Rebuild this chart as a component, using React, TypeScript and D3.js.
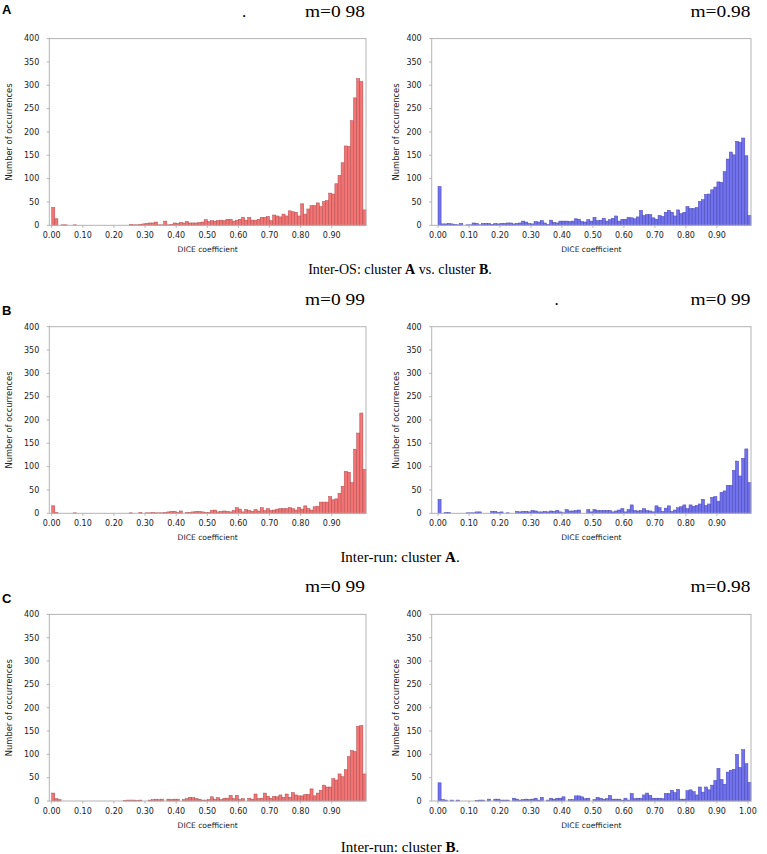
import React from "react";
import * as d3 from "d3";

// DICE coefficient bins: 0.00 … 1.00 step 0.01
const binStarts = d3.range(101).map((i) => i / 100);

// Row A – Inter-OS
const interOsLeft = [
  38, 14, 0, 1, 1, 0, 0, 1, 0, 0,
  0, 0, 0, 0, 0, 0, 0, 0, 0, 0,
  0, 0, 0, 0, 0, 2, 1, 1, 2, 3,
  4, 5, 5, 7, 1, 1, 9, 1, 2, 5,
  4, 6, 5, 8, 5, 5, 5, 6, 7, 12,
  8, 10, 9, 10, 11, 10, 13, 13, 9, 11,
  13, 17, 11, 17, 11, 11, 13, 17, 17, 19,
  10, 22, 20, 18, 24, 20, 31, 29, 28, 20,
  46, 24, 35, 42, 42, 48, 40, 51, 53, 69,
  67, 89, 107, 134, 170, 169, 224, 273, 314, 308,
  33,
];
const interOsRight = [
  83, 3, 3, 4, 3, 2, 1, 4, 0, 1,
  1, 5, 4, 1, 4, 4, 4, 2, 4, 3,
  4, 4, 5, 5, 3, 4, 5, 9, 7, 4,
  3, 8, 7, 10, 5, 2, 11, 6, 5, 9,
  9, 9, 8, 9, 14, 13, 8, 7, 12, 9,
  17, 10, 11, 15, 9, 12, 15, 20, 9, 13,
  13, 17, 16, 14, 18, 32, 21, 23, 23, 16,
  13, 21, 19, 28, 32, 28, 20, 33, 25, 28,
  40, 36, 36, 38, 51, 55, 66, 67, 76, 82,
  93, 92, 115, 142, 157, 151, 180, 178, 187, 149,
  21,
];
// Row B – Inter-run cluster A
const runALeft = [
  16, 2, 0, 0, 0, 0, 0, 1, 0, 0,
  0, 0, 0, 0, 0, 0, 0, 0, 0, 0,
  0, 0, 0, 0, 0, 1, 0, 0, 2, 0,
  1, 1, 2, 1, 1, 1, 2, 3, 4, 4,
  2, 5, 0, 2, 2, 3, 4, 4, 3, 2,
  2, 6, 7, 3, 4, 5, 4, 3, 6, 12,
  9, 3, 8, 6, 4, 8, 5, 12, 6, 10,
  6, 7, 9, 10, 10, 10, 12, 10, 7, 13,
  9, 16, 10, 7, 14, 15, 24, 24, 24, 36,
  29, 31, 43, 58, 90, 88, 66, 137, 172, 215,
  94,
];
const runARight = [
  30, 0, 2, 2, 0, 0, 0, 0, 0, 1,
  1, 1, 3, 3, 0, 0, 0, 4, 4, 2,
  3, 0, 1, 0, 0, 4, 3, 4, 4, 3,
  6, 5, 3, 3, 4, 3, 5, 4, 6, 3,
  1, 8, 5, 5, 6, 7, 0, 0, 8, 3,
  8, 6, 6, 6, 6, 6, 3, 5, 7, 10,
  3, 8, 18, 6, 5, 6, 10, 6, 5, 3,
  16, 12, 4, 11, 16, 4, 7, 12, 14, 18,
  10, 18, 15, 17, 20, 30, 17, 20, 34, 36,
  26, 45, 48, 60, 60, 92, 112, 80, 118, 138,
  66,
];
// Row C – Inter-run cluster B
const runBLeft = [
  17, 5, 3, 0, 0, 0, 0, 0, 0, 0,
  0, 0, 0, 0, 0, 0, 0, 0, 0, 0,
  0, 0, 0, 1, 2, 2, 2, 1, 2, 0,
  0, 2, 3, 4, 3, 4, 0, 4, 3, 4,
  4, 0, 3, 5, 8, 7, 5, 4, 2, 2,
  3, 9, 4, 7, 3, 6, 6, 12, 5, 12,
  3, 5, 0, 6, 4, 15, 5, 6, 17, 10,
  6, 10, 9, 13, 8, 15, 8, 18, 13, 11,
  11, 14, 14, 26, 11, 17, 23, 34, 30, 30,
  48, 45, 58, 52, 67, 95, 108, 106, 160, 162,
  58,
];
const runBRight = [
  39, 3, 2, 0, 2, 0, 2, 0, 0, 0,
  0, 0, 1, 2, 2, 0, 4, 0, 4, 4,
  2, 2, 2, 0, 6, 4, 2, 3, 4, 3,
  4, 6, 2, 8, 0, 2, 6, 4, 6, 6,
  9, 0, 3, 3, 11, 11, 9, 5, 6, 0,
  3, 8, 6, 4, 5, 12, 4, 4, 4, 2,
  6, 2, 16, 5, 6, 6, 13, 17, 12, 6,
  6, 6, 5, 16, 16, 23, 18, 25, 4, 4,
  22, 24, 20, 13, 30, 19, 30, 24, 34, 44,
  70, 46, 36, 62, 66, 68, 100, 72, 110, 80,
  40,
];

const xTicks = [0, 0.1, 0.2, 0.3, 0.4, 0.5, 0.6, 0.7, 0.8, 0.9];
const xTicksWithOne = [0, 0.1, 0.2, 0.3, 0.4, 0.5, 0.6, 0.7, 0.8, 0.9, 1.0];
const yTicks = [0, 50, 100, 150, 200, 250, 300, 350, 400];

const panelLetters = ["A", "B", "C"];
const meanLabels = [
  ["m=0 98", "m=0.98"],
  ["m=0 99", "m=0 99"],
  ["m=0 99", "m=0.98"],
];
const captions = [
  ["Inter-OS: cluster ", "A", " vs. cluster ", "B", "."],
  ["Inter-run: cluster ", "A", "."],
  ["Inter-run: cluster ", "B", "."],
];

const rows = [
  { top: 38.6, bottom: 225.3, letterY: 13.5, mY: 16.7, capY: 274, capSize: 14 },
  { top: 326.7, bottom: 513.3, letterY: 315, mY: 305, capY: 562, capSize: 15 },
  { top: 614.4, bottom: 801, letterY: 603.3, mY: 592.3, capY: 852, capSize: 15 },
];
const cols = [
  { frameLeft: 49.3, barStart: 51.7, right: 366, ylabX: 9.5, mX: 305 },
  { frameLeft: 431.7, barStart: 438, right: 751, ylabX: 396, mX: 690.5 },
];

const RED = { fill: "#f27474", stroke: "#b04c4c" };
const BLUE = { fill: "#7272ee", stroke: "#4545b0" };

const SANS = "'DejaVu Sans', Verdana, sans-serif";
const SERIF = "'Liberation Serif', 'Times New Roman', serif";

type PanelProps = {
  data: number[];
  row: (typeof rows)[number];
  col: (typeof cols)[number];
  color: { fill: string; stroke: string };
  ticks: number[];
};

function Panel({ data, row, col, color, ticks }: PanelProps) {
  const x = d3.scaleLinear().domain([0, 1.01]).range([col.barStart, col.right]);
  const y = d3.scaleLinear().domain([0, 400]).range([row.bottom, row.top]);
  const fmt = d3.format(".2f");
  const midY = (row.top + row.bottom) / 2;
  const midX = (col.frameLeft + col.right) / 2;
  return (
    <g>
      {binStarts.map((b, i) =>
        data[i] > 0 ? (
          <rect
            key={i}
            x={x(b)}
            y={y(data[i])}
            width={x(b + 0.01) - x(b)}
            height={row.bottom - y(data[i])}
            fill={color.fill}
            stroke={color.stroke}
            strokeWidth={0.5}
          />
        ) : null
      )}
      <rect
        x={col.frameLeft}
        y={row.top}
        width={col.right - col.frameLeft}
        height={row.bottom - row.top}
        fill="none"
        stroke="#b3b3b3"
        strokeWidth={1}
      />
      {yTicks.map((t) => (
        <g key={t}>
          <line
            x1={col.frameLeft - 2.5}
            x2={col.frameLeft}
            y1={y(t)}
            y2={y(t)}
            stroke="#b3b3b3"
          />
          <text
            x={col.frameLeft - 10}
            y={y(t)}
            dy="0.35em"
            textAnchor="end"
            fontFamily={SANS}
            fontSize={8}
            fill="#222"
          >
            {t}
          </text>
        </g>
      ))}
      {ticks.map((t) => (
        <g key={t}>
          <line
            x1={x(t)}
            x2={x(t)}
            y1={row.bottom}
            y2={row.bottom + 2.5}
            stroke="#b3b3b3"
          />
          <text
            x={x(t)}
            y={row.bottom + 13}
            textAnchor="middle"
            fontFamily={SANS}
            fontSize={8}
            fill="#222"
          >
            {fmt(t)}
          </text>
        </g>
      ))}
      <text
        x={midX}
        y={row.bottom + 26.5}
        textAnchor="middle"
        fontFamily={SANS}
        fontSize={7.6}
        fill="#222"
      >
        DICE coefficient
      </text>
      <text
        transform={`translate(${col.ylabX},${midY}) rotate(-90)`}
        dy="0.35em"
        textAnchor="middle"
        fontFamily={SANS}
        fontSize={8.3}
        fill="#222"
      >
        Number of occurrences
      </text>
    </g>
  );
}

export default function App() {
  const series = [
    [interOsLeft, interOsRight],
    [runALeft, runARight],
    [runBLeft, runBRight],
  ];
  return (
    <div style={{ position: "absolute", left: 0, top: 0 }}>
      <svg width={767} height={854} style={{ display: "block", background: "#fff" }}>
        {rows.map((row, r) => (
          <g key={r}>
            <text
              x={2}
              y={row.letterY}
              fontFamily="'Liberation Sans', Arial, sans-serif"
              fontWeight="bold"
              fontSize={13}
              fill="#000"
            >
              {panelLetters[r]}
            </text>
            {cols.map((col, c) => (
              <g key={c}>
                <Panel
                  data={series[r][c]}
                  row={row}
                  col={col}
                  color={c === 0 ? RED : BLUE}
                  ticks={r === 2 && c === 1 ? xTicksWithOne : xTicks}
                />
                <text
                  x={col.mX}
                  y={row.mY}
                  fontFamily={SERIF}
                  fontSize={17}
                  textLength={60}
                  lengthAdjust="spacingAndGlyphs"
                  fill="#000"
                >
                  {meanLabels[r][c]}
                </text>
              </g>
            ))}
            <text
              x={400}
              y={row.capY}
              textAnchor="middle"
              fontFamily={SERIF}
              fontSize={row.capSize}
              fill="#000"
            >
              {captions[r].map((s, k) => (
                <tspan key={k} fontWeight={k % 2 === 1 ? "bold" : "normal"}>
                  {s}
                </tspan>
              ))}
            </text>
          </g>
        ))}
        <text x={244} y={16.7} fontFamily={SERIF} fontSize={17} textAnchor="middle">
          .
        </text>
        <text x={556.7} y={305} fontFamily={SERIF} fontSize={17} textAnchor="middle">
          .
        </text>
      </svg>
    </div>
  );
}
